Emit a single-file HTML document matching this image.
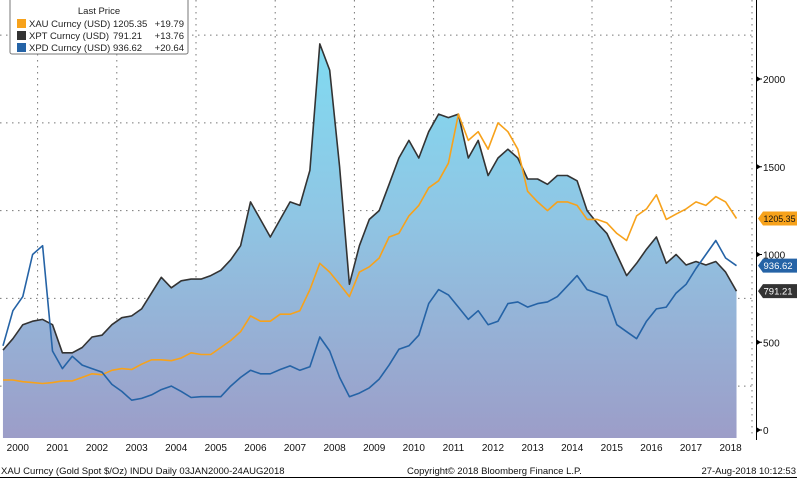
<!DOCTYPE html>
<html><head><meta charset="utf-8"><style>
html,body{margin:0;padding:0;background:#fff;}
body{width:797px;height:478px;overflow:hidden;font-family:"Liberation Sans",sans-serif;}
svg text{font-family:"Liberation Sans",sans-serif;}
</style></head><body>
<svg id="chart" width="797" height="478" viewBox="0 0 797 478" xmlns="http://www.w3.org/2000/svg">
<defs>
<linearGradient id="areaGrad" x1="0" y1="34" x2="0" y2="438" gradientUnits="userSpaceOnUse">
<stop offset="0" stop-color="#7fdcf2"/>
<stop offset="0.45" stop-color="#8fc6e4"/>
<stop offset="1" stop-color="#9c9dc8"/>
</linearGradient>
</defs>
<g id="grid"></g>
<g id="area"></g>
<g id="lines"></g>
<g id="axis"></g>
<g id="xaxis"></g>
<g id="tags"></g>
<g font-size="9.5" fill="#222">
<rect x="10" y="-2" width="178" height="56" fill="#fff" stroke="#777" stroke-width="1" rx="2"/>
<text x="99" y="14" text-anchor="middle">Last Price</text>
<rect x="17" y="19" width="9" height="9" fill="#f7a21b"/>
<text x="29" y="27">XAU Curncy (USD)</text>
<text x="113" y="27">1205.35</text>
<text x="184" y="27" text-anchor="end">+19.79</text>
<rect x="17" y="31" width="9" height="9" fill="#333"/>
<text x="29" y="39">XPT Curncy (USD)</text>
<text x="113" y="39">791.21</text>
<text x="184" y="39" text-anchor="end">+13.76</text>
<rect x="17" y="43" width="9" height="9" fill="#2563a6"/>
<text x="29" y="51">XPD Curncy (USD)</text>
<text x="113" y="51">936.62</text>
<text x="184" y="51" text-anchor="end">+20.64</text>
</g>
<text x="1" y="474" font-size="9.5" fill="#111">XAU Curncy (Gold Spot  $/Oz) INDU  Daily 03JAN2000-24AUG2018</text>
<text x="407" y="474" font-size="9.5" fill="#111">Copyright© 2018 Bloomberg Finance L.P.</text>
<text x="796" y="474" font-size="9.5" fill="#111" text-anchor="end">27-Aug-2018 10:12:53</text>
<line x1="0" y1="477.5" x2="797" y2="477.5" stroke="#000"/>
</svg>
<script>
const startYear = 2000;
const yearLabels = [2000,2001,2002,2003,2004,2005,2006,2007,2008,2009,2010,2011,2012,2013,2014,2015,2016,2017,2018];
const yTicks = [0,500,1000,1500,2000];
const yGrid = [250,750,1250,1750,2250];
// quarterly values 2000Q1 .. 2018Q3
const gold = [285,285,275,270, 265,270,280,280, 300,320,315,340, 350,345,375,400, 400,395,410,440, 430,430,470,510,
 560,650,620,620, 660,660,680,800, 950,900,830,760, 900,930,980,1100, 1120,1220,1280,1380, 1420,1520,1800,1650,
 1700,1600,1750,1700, 1600,1360,1300,1250, 1300,1300,1280,1200, 1200,1180,1120,1080, 1220,1260,1340,1200,
 1230,1260,1300,1280, 1330,1300,1205];
const platinum = [455,520,600,620, 630,600,440,440, 470,530,540,600, 640,650,690,780, 870,810,850,860, 860,880,910,970,
 1050,1300,1200,1100, 1200,1300,1280,1480, 2200,2050,1500,830, 1050,1200,1250,1400, 1550,1650,1550,1700, 1800,1780,1800,1550,
 1650,1450,1550,1600, 1550,1430,1430,1400, 1450,1450,1420,1250, 1180,1120,1000,880, 950,1030,1100,950,
 1000,940,960,940, 960,900,791];
const palladium = [480,680,760,1000, 1050,450,350,420, 370,350,330,260, 220,170,180,200, 230,250,220,185, 190,190,190,250,
 300,340,320,320, 345,365,340,360, 530,450,300,190, 210,240,290,370, 460,480,540,720, 800,770,700,630,
 680,600,620,720, 730,700,720,730, 760,820,880,800, 780,760,600,560, 520,620,690,700,
 780,830,920,1000, 1080,980,936];
const lastValues = [1205.35, 936.62, 791.21];
const lastLabels = ["1205.35","936.62","791.21"];

const NS = "http://www.w3.org/2000/svg";
const X0 = -2, PX_YEAR = 39.6, Y0 = 430, PX_VAL = 0.1755, BOTTOM = 438, AXIS_X = 756;
function xScale(yr){ return X0 + (yr - startYear) * PX_YEAR; }
function yScale(v){ return Y0 - v * PX_VAL; }
function qDate(i, n){ return i === n-1 ? 2018.65 : startYear + i*0.25 + 0.125; }
function mk(tag, attrs, parent){ const e = document.createElementNS(NS, tag); for (const k in attrs) e.setAttribute(k, attrs[k]); parent.appendChild(e); return e; }

const grid = document.getElementById('grid');
yGrid.forEach(v => {
  const l = mk('line', {x1:0, x2:AXIS_X-4, y1:yScale(v), y2:yScale(v), stroke:'#777', 'stroke-width':1, 'stroke-dasharray':'1.5,4.5'}, grid);
  
  
});
for (let yr = 2001; yr <= 2019; yr += 2) {
  const x = yr === 2019 ? AXIS_X-4 : xScale(yr);
  const l = mk('line', {x1:x, x2:x, y1:0, y2:BOTTOM, stroke:'#777', 'stroke-width':1, 'stroke-dasharray':'1.5,4.5'}, grid);
  
  
}

function pts(arr){ return arr.map((v,i) => [xScale(qDate(i, arr.length)), yScale(v)]); }
const pp = pts(platinum);
let d = 'M' + pp[0][0] + ',' + BOTTOM + ' ' + pp.map(p => 'L' + p[0].toFixed(1) + ',' + p[1].toFixed(1)).join(' ') + ' L' + pp[pp.length-1][0] + ',' + BOTTOM + ' Z';
const area = mk('path', {d:d, fill:'url(#areaGrad)'}, document.getElementById('area'));



const lines = document.getElementById('lines');
function drawLine(arr, color, name){
  const p = pts(arr);
  const path = mk('path', {d:'M' + p.map(q => q[0].toFixed(1)+','+q[1].toFixed(1)).join(' L'), fill:'none', stroke:color, 'stroke-width':1.6, 'stroke-linejoin':'round'}, lines);
  
  
}
drawLine(platinum, '#333333', 'xpt-line');
drawLine(gold, '#f7a21b', 'xau-line');
drawLine(palladium, '#2563a6', 'xpd-line');

const axis = document.getElementById('axis');
mk('line', {x1:AXIS_X+0.5, x2:AXIS_X+0.5, y1:0, y2:BOTTOM+2, stroke:'#000'}, axis);
yTicks.forEach(v => {
  const y = yScale(v);
  mk('path', {d:'M'+(AXIS_X+1)+','+(y-2.5)+' L'+(AXIS_X+5)+','+y+' L'+(AXIS_X+1)+','+(y+2.5)+' Z', fill:'#000'}, axis);
  mk('line', {x1:AXIS_X+1, x2:AXIS_X+6, y1:y, y2:y, stroke:'#000'}, axis);
  const t = mk('text', {x:AXIS_X+7, y:y+4, 'font-size':10, fill:'#111'}, axis);
  t.textContent = v;
  
  
});

const xaxis = document.getElementById('xaxis');
yearLabels.forEach(yr => {
  const t = mk('text', {x:xScale(yr+0.5), y:451, 'font-size':10, fill:'#111', 'text-anchor':'middle'}, xaxis);
  t.textContent = yr;
  
  
});

const tags = document.getElementById('tags');
const tagColors = ['#f7a21b','#2563a6','#333333'];
const tagText = ['#111','#fff','#fff'];
lastValues.forEach((v,i) => {
  let y = yScale(v);
  if (i === 2) y = Math.max(y, yScale(lastValues[1]) + 24);
  const g = mk('g', {}, tags);
  
  
  mk('path', {d:'M'+(AXIS_X+2)+','+y+' L'+(AXIS_X+7)+','+(y-7)+' L797,'+(y-7)+' L797,'+(y+7)+' L'+(AXIS_X+7)+','+(y+7)+' Z', fill:tagColors[i]}, g);
  const t = mk('text', {x:AXIS_X+7.5, y:y+3.5, 'font-size':9.5, fill:tagText[i], textLength:32, lengthAdjust:'spacingAndGlyphs'}, g);
  if (lastLabels[i].length < 7) { t.removeAttribute('textLength'); t.removeAttribute('lengthAdjust'); }
  t.textContent = lastLabels[i];
});
</script>
</body></html>
